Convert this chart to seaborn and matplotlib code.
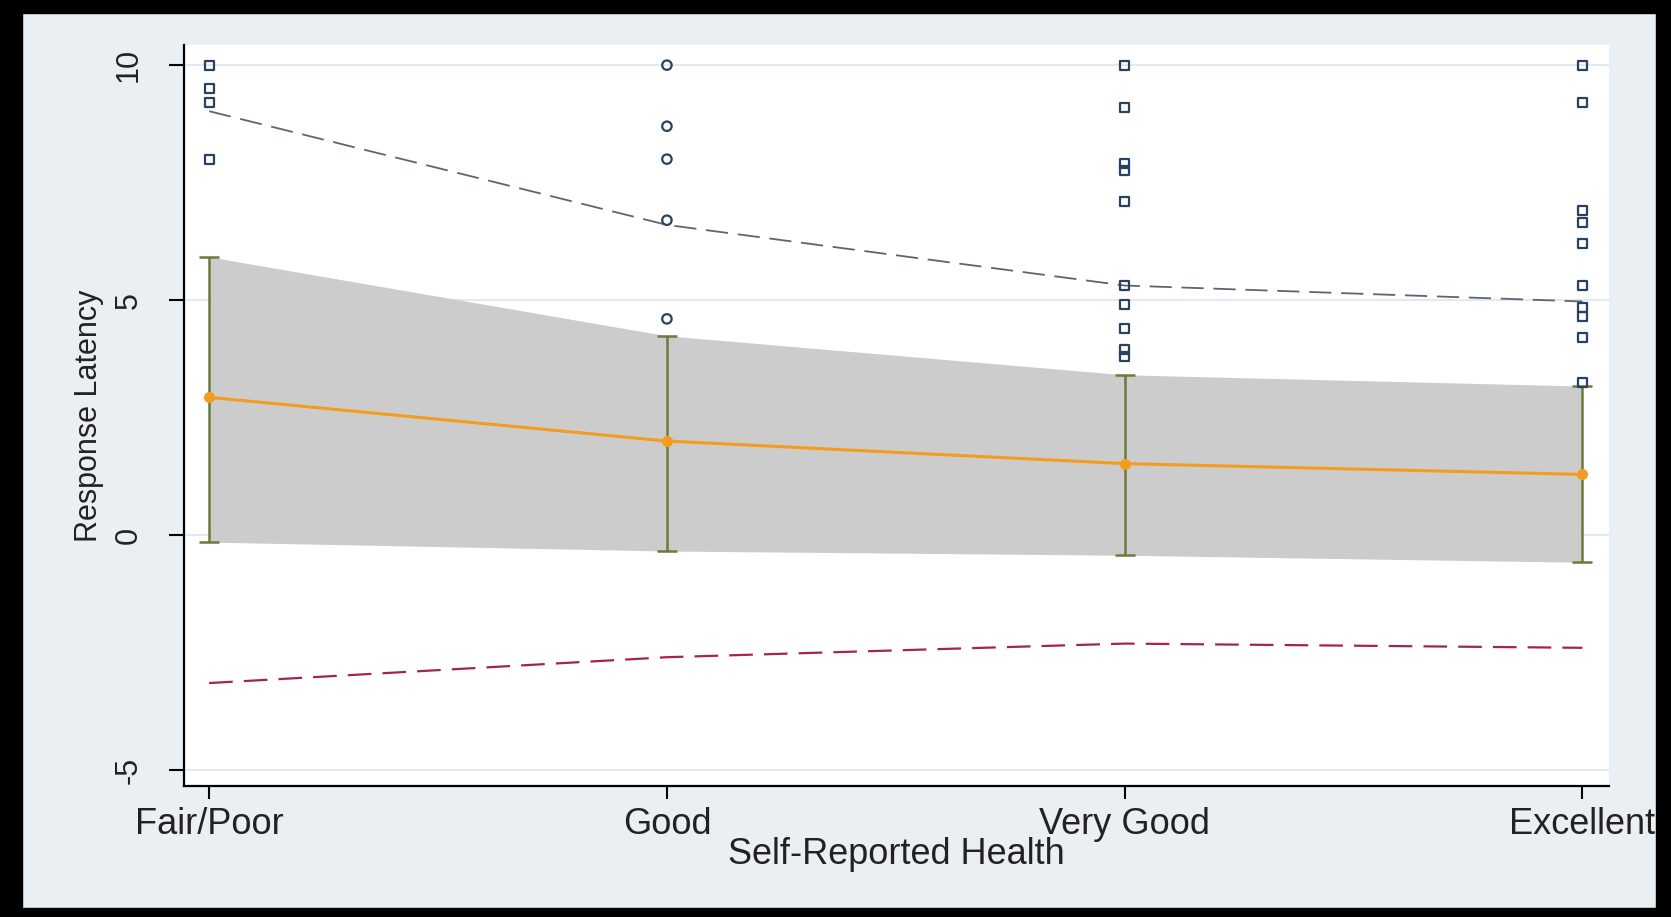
import matplotlib.pyplot as plt
import matplotlib.patches as mpatches
import pandas as pd
import seaborn as sns

# Values
categories = ["Fair/Poor", "Good", "Very Good", "Excellent"]
predicted = [2.93, 2.0, 1.52, 1.29]
ci_lower = [-0.15, -0.34, -0.43, -0.58]
ci_upper = [5.92, 4.24, 3.41, 3.17]
upper_bound = [9.02, 6.6, 5.31, 4.97]
lower_bound = [-3.15, -2.6, -2.31, -2.4]

fair_poor_obs = [10.0, 9.5, 9.2, 8.0]
good_obs = [10.0, 8.7, 8.0, 6.7, 4.6]
very_good_obs = [10.0, 9.1, 7.9, 7.75, 7.1, 5.3, 4.9, 4.4, 3.95, 3.8]
excellent_obs = [10.0, 9.2, 6.9, 6.65, 6.2, 5.3, 4.85, 4.65, 4.2, 3.25]

sns.set_style("white")
plt.rcParams["font.family"] = ["Liberation Sans", "DejaVu Sans"]
plt.rcParams["axes.unicode_minus"] = False
plt.rcParams["lines.scale_dashes"] = False

bg = "#e9eff2"
navy = "#2a4260"
pos = list(range(len(categories)))

# Long tables for seaborn
curves = pd.DataFrame({"x": pos, "pred": predicted, "up": upper_bound, "low": lower_bound})
obs_sq = pd.DataFrame({
    "x": [0] * len(fair_poor_obs) + [2] * len(very_good_obs) + [3] * len(excellent_obs),
    "y": fair_poor_obs + very_good_obs + excellent_obs,
})
obs_circ = pd.DataFrame({"x": [1] * len(good_obs), "y": good_obs})

fig = plt.figure(figsize=(16.71, 9.17), dpi=100, facecolor=bg)
ax = fig.add_axes([0.1101, 0.1429, 0.8528, 0.8081])
ax.set_facecolor("white")

# Gridlines
for gy in [-5, 0, 5, 10]:
    ax.axhline(gy, color="#dde6ea", lw=1.2, zorder=0)

# CI band and error bars
ax.fill_between(pos, ci_lower, ci_upper, color="#cccccc", lw=0, zorder=1)
ax.errorbar(pos, predicted,
            yerr=[[p - l for p, l in zip(predicted, ci_lower)],
                  [u - p for p, u in zip(predicted, ci_upper)]],
            fmt="none", ecolor="#6b7b3b", elinewidth=1.8, capsize=7, capthick=1.8, zorder=2)

# Predicted line
sns.lineplot(data=curves, x="x", y="pred", color="#f39c1e", lw=2.2, marker="o",
             markersize=8, markeredgewidth=0, ax=ax, zorder=3)

# Dashed bounds
sns.lineplot(data=curves, x="x", y="up", color="#5d6670", lw=1.3,
             linestyle=(0, (16, 7)), ax=ax, zorder=3)
sns.lineplot(data=curves, x="x", y="low", color="#a6234f", lw=1.6,
             linestyle=(0, (17, 8)), ax=ax, zorder=3)

# Observed points (hollow markers)
sns.scatterplot(data=obs_sq, x="x", y="y", marker="s", s=42, ax=ax, zorder=4)
ax.collections[-1].set_facecolor("none")
ax.collections[-1].set_edgecolor(navy)
ax.collections[-1].set_linewidth(1.6)
sns.scatterplot(data=obs_circ, x="x", y="y", marker="o", s=46, ax=ax, zorder=4)
ax.collections[-1].set_facecolor("none")
ax.collections[-1].set_edgecolor(navy)
ax.collections[-1].set_linewidth(1.6)

ax.set_xlim(-0.055, 3.058)
ax.set_ylim(-5.34, 10.43)

ax.set_xticks(pos)
ax.set_xticklabels(categories, fontsize=26, color="#222222")
ax.set_yticks([-5, 0, 5, 10])
ax.set_yticklabels(["-5", "0", "5", "10"], fontsize=22, color="#222222",
                   rotation=90, va="center")

ax.tick_params(axis="x", length=9, width=1.5, color="black", pad=6, bottom=True)
ax.tick_params(axis="y", length=11, width=1.5, color="black", pad=18, left=True)

for side in ["top", "right"]:
    ax.spines[side].set_visible(False)
for side in ["left", "bottom"]:
    ax.spines[side].set_color("black")
    ax.spines[side].set_linewidth(1.6)

ax.set_xlabel("Self-Reported Health", fontsize=26, color="#222222", va="center")
ax.xaxis.set_label_coords(0.5, -0.092)
ax.set_ylabel("Response Latency", fontsize=22, color="#222222", va="center")
ax.yaxis.set_label_coords(-0.067, 0.5)

# Black frame round the picture
W, H = 1671, 917
for (x0, y0, w, h) in [(0, 0, W, 9), (0, H - 13, W, 13), (0, 0, 22, H), (1656, 0, W - 1656, H)]:
    fig.add_artist(mpatches.Rectangle((x0 / W, y0 / H), w / W, h / H, transform=fig.transFigure,
                                      color="black", zorder=10))

fig.savefig("out.png", dpi=100, facecolor=bg)
